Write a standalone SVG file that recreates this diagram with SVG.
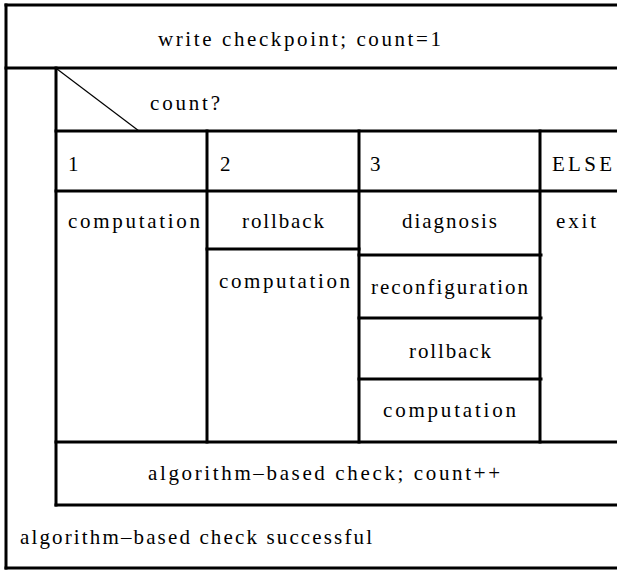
<svg xmlns="http://www.w3.org/2000/svg" width="617" height="571" viewBox="0 0 617 571">
<style>
.l{stroke:#000;stroke-width:3;fill:none;stroke-linecap:square}
.d{stroke:#000;stroke-width:1.2;fill:none}
</style>
<rect width="617" height="571" fill="#fff"/>
<g font-family="'Liberation Serif', 'Times New Roman', Times, serif" font-size="21" fill="#000">
<g id="frame">
<line class="l" x1="6" y1="5" x2="620" y2="5"/>
<line class="l" x1="6" y1="5" x2="6" y2="568"/>
<line class="l" x1="6" y1="568" x2="620" y2="568"/>
</g>
<g id="init">
<line class="l" x1="6" y1="68" x2="620" y2="68"/>
<text x="158" y="46" textLength="283" lengthAdjust="spacing">write checkpoint; count=1</text>
</g>
<g id="loop">
<line class="l" x1="56" y1="68" x2="56" y2="505"/>
<line class="l" x1="56" y1="505" x2="620" y2="505"/>
<text x="20" y="544" textLength="352" lengthAdjust="spacing">algorithm–based check successful</text>
</g>
<g id="case">
<line class="d" x1="57" y1="69" x2="139" y2="131"/>
<text x="150" y="110" textLength="70" lengthAdjust="spacing">count?</text>
<line class="l" x1="56" y1="131" x2="620" y2="131"/>
<line class="l" x1="56" y1="191" x2="620" y2="191"/>
<line class="l" x1="207" y1="131" x2="207" y2="442"/>
<line class="l" x1="359" y1="131" x2="359" y2="442"/>
<line class="l" x1="540" y1="131" x2="540" y2="442"/>
<text x="68" y="171">1</text>
<text x="220" y="171">2</text>
<text x="370" y="171">3</text>
<text x="552" y="171" textLength="60" lengthAdjust="spacing">ELSE</text>
</g>
<g id="case1">
<text x="68" y="228" textLength="132" lengthAdjust="spacing">computation</text>
</g>
<g id="case2">
<text x="242" y="228" textLength="82" lengthAdjust="spacing">rollback</text>
<line class="l" x1="207" y1="249" x2="359" y2="249"/>
<text x="219" y="288" textLength="131" lengthAdjust="spacing">computation</text>
</g>
<g id="case3">
<text x="402" y="228" textLength="95" lengthAdjust="spacing">diagnosis</text>
<line class="l" x1="359" y1="255" x2="541" y2="255"/>
<text x="371" y="294" textLength="157" lengthAdjust="spacing">reconfiguration</text>
<line class="l" x1="359" y1="318" x2="541" y2="318"/>
<text x="409" y="358" textLength="82" lengthAdjust="spacing">rollback</text>
<line class="l" x1="359" y1="379" x2="541" y2="379"/>
<text x="383" y="417" textLength="133" lengthAdjust="spacing">computation</text>
</g>
<g id="caseElse">
<text x="556" y="228" textLength="40" lengthAdjust="spacing">exit</text>
</g>
<g id="check">
<line class="l" x1="56" y1="442" x2="620" y2="442"/>
<text x="148" y="480" textLength="352" lengthAdjust="spacing">algorithm–based check; count++</text>
</g>
</g>
</svg>
